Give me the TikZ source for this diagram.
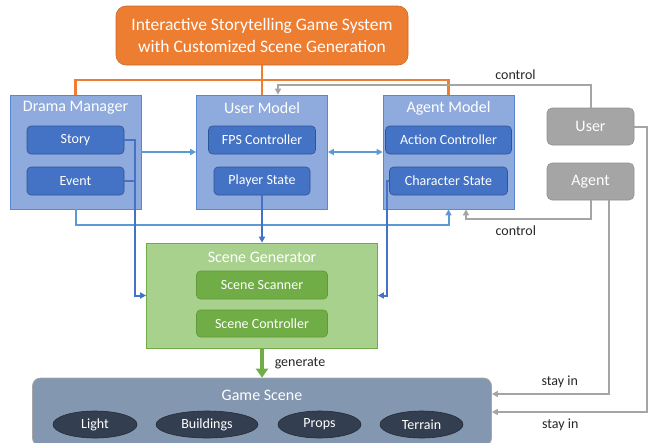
\documentclass[tikz,border=0pt]{standalone}
\usepackage{fontspec}
\setmainfont{Carlito}
\usetikzlibrary{positioning,arrows.meta,shapes.geometric}

\definecolor{sysorange}{HTML}{ED7D31}
\definecolor{modfill}{HTML}{8FAADC}
\definecolor{modline}{HTML}{5B86D0}
\definecolor{partfill}{HTML}{4472C4}
\definecolor{partline}{HTML}{2F5597}
\definecolor{linklight}{HTML}{5B9BD5}
\definecolor{linkdark}{HTML}{4472C4}
\definecolor{genfill}{HTML}{A9D18E}
\definecolor{genline}{HTML}{70AD47}
\definecolor{genpart}{HTML}{70AD47}
\definecolor{genpartline}{HTML}{5E9A3A}
\definecolor{actorgray}{HTML}{A5A5A5}
\definecolor{actorline}{HTML}{909090}
\definecolor{scenefill}{HTML}{8497B0}
\definecolor{sceneline}{HTML}{A6A6A6}
\definecolor{propfill}{HTML}{333F50}
\definecolor{propline}{HTML}{222A35}
\definecolor{lbltext}{HTML}{262626}

\begin{document}
\begin{tikzpicture}[x=1pt,y=-1pt,on grid,
    >={Triangle[length=6pt,width=6pt]},
    every node/.style={text=white,inner sep=0pt},
    head/.style={fill=sysorange,draw=sysorange!85!black,line width=0.6pt,rounded corners=10pt,
        minimum width=292pt,minimum height=59pt,align=center,font=\fontsize{17.5}{22}\selectfont},
    module/.style={draw=modline,fill=modfill,line width=0.7pt,minimum width=131pt,minimum height=114pt},
    modtitle/.style={font=\fontsize{16}{18}\selectfont},
    part/.style={draw=partline,fill=partfill,rounded corners=4pt,line width=0.6pt,
        minimum height=28pt,font=\fontsize{14}{16}\selectfont},
    genpart/.style={part,draw=genpartline,fill=genpart,minimum width=131pt},
    actor/.style={draw=actorline,fill=actorgray,rounded corners=5pt,line width=0.6pt,
        minimum width=87pt,minimum height=37pt,font=\fontsize{16}{18}\selectfont},
    prop/.style={ellipse,draw=propline,fill=propfill,line width=0.6pt,minimum width=84pt,
        minimum height=27pt,font=\fontsize{14}{16}\selectfont},
    lbl/.style={text=lbltext,font=\fontsize{14}{16}\selectfont},
    sysln/.style={draw=sysorange,line width=2.2pt},
    lln/.style={draw=linklight,line width=2pt},
    dln/.style={draw=linkdark,line width=2pt},
    gln/.style={draw=actorgray,line width=2pt}]

\useasboundingbox (0,0) rectangle (652,442);

\node[head] (sys) at (262,35.5) {Interactive Storytelling Game System\\with Customized Scene Generation};

\node[module] (dm) at (75.5,152) {};
\node[modtitle] (dmtitle) [above=44pt of dm] {Drama Manager};
\node[part,minimum width=97pt] (story) [above=12pt of dm] {Story};
\node[part,minimum width=97pt] (event) [below=41pt of story] {Event};

\node[module] (um) [right=186.5pt of dm] {};
\node[modtitle] (umtitle) [above=44pt of um] {User Model};
\node[part,minimum width=107pt] (fps) [above=12pt of um] {FPS Controller};
\node[part,minimum width=96pt] (player) [below=41pt of fps] {Player State};

\node[module] (am) [right=186.5pt of um] {};
\node[modtitle] (amtitle) [above=44pt of am] {Agent Model};
\node[part,minimum width=126pt] (action) [above=12pt of am] {Action Controller};
\node[part,minimum width=118pt] (charst) [below=41pt of action] {Character State};

\node[actor] (user) at (590.5,126.5) {User};
\node[actor] (agent) [below=55pt of user] {Agent};

\node[module,draw=genline,fill=genfill,minimum width=231pt,minimum height=105pt] (gen) [below=143.5pt of um] {};
\node[modtitle] (gentitle) [above=38.5pt of gen] {Scene Generator};
\node[genpart] (scanner) [above=10.5pt of gen] {Scene Scanner};
\node[genpart,minimum height=27pt] (sctrl) [below=38.5pt of scanner] {Scene Controller};

\node[draw=sceneline,fill=scenefill,rounded corners=8pt,line width=0.7pt,minimum width=459pt,minimum height=68pt] (game) [below=116.5pt of gen] {};
\node[modtitle] (gametitle) [above=17pt of game] {Game Scene};
\node[prop] (light) at (95,424.5) {Light};
\node[prop,minimum width=102pt] (buildings) [right=112pt of light] {Buildings};
\node[prop,minimum width=83pt] (props) [right=112.5pt of buildings] {Props};
\node[prop,minimum width=83pt] (terrain) [right=102pt of props] {Terrain};

\coordinate (bus) at (262,80);
\path[sysln] (sys) -- (um);
\path[sysln] (dm.north) |- (bus) -| (am.north);

\path[gln,->] (user.north) |- node[lbl,above=4pt,pos=0.62] {control} ([xshift=16pt,yshift=10pt]um.north) -- ([xshift=16pt]um.north);
\path[gln,->] (agent.south) |- node[lbl,below=5pt,pos=0.8] {control} ([xshift=17.5pt,yshift=-10pt]am.south) -- ([xshift=17.5pt]am.south);
\path[gln,->] ([xshift=18.5pt]agent.south) |- node[lbl,above=5pt,pos=0.71] {stay in} ([yshift=18pt]game.east);
\path[gln,->] (user.east) -- ++(13,0) |- node[lbl,below=6pt,pos=0.78] {stay in} (game.east);

\path[lln,->] (dm) -- (um);
\path[lln,<->] (um) -- (am);
\path[lln,->] (dm.south) -- ++(0,16) -| (am.south);
\path[dln,->] (story.east) -- ++(11,0) |- (gen.west);
\path[dln] (event.east) -- ++(11,0);
\path[dln,->] (player.south) -- (gen.north);
\path[dln,->] (charst.west) -- ++(-2,0) |- (gen.east);

\path[draw=genline,line width=3.5pt,-{Triangle[length=9pt,width=12pt]}] (gen.south) -- node[lbl,right=11pt] {generate} (game.north);
\end{tikzpicture}
\end{document}
